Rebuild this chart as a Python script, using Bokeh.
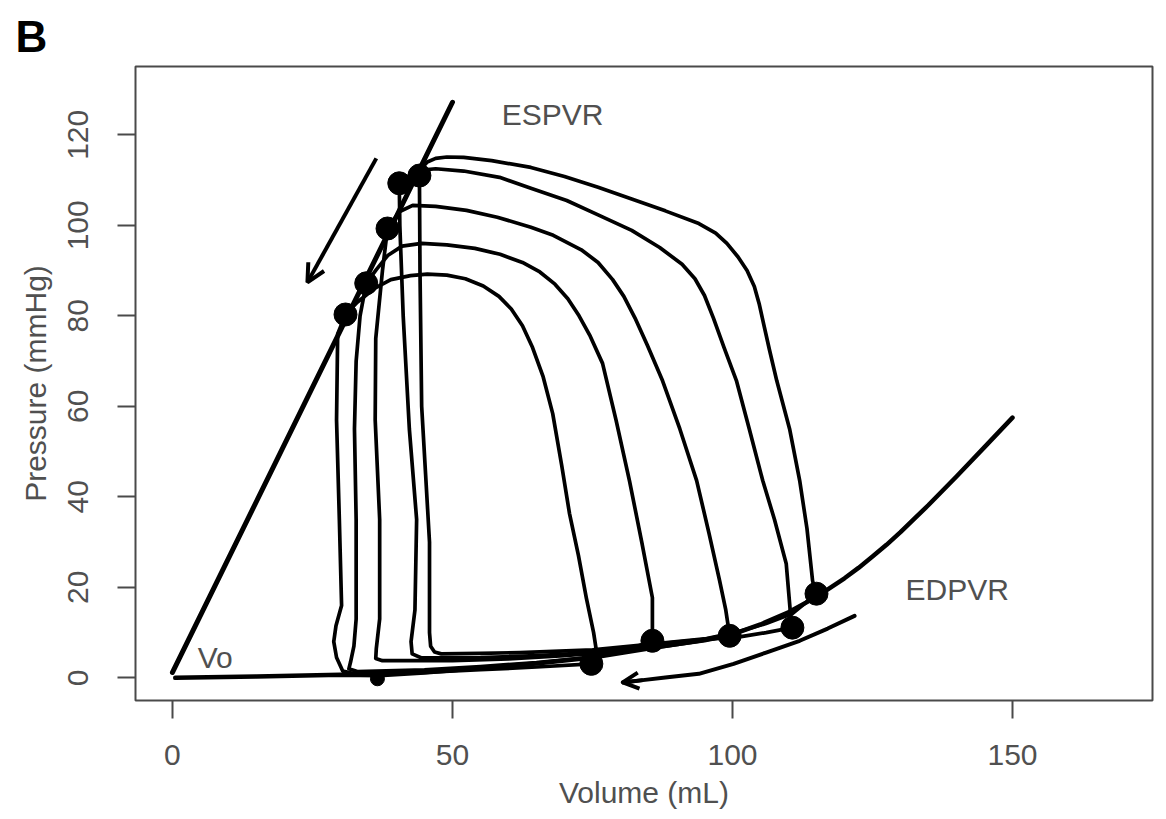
from bokeh.plotting import figure
from bokeh.models import Range1d, Label, Arrow, OpenHead, FixedTicker, Title
from bokeh.embed import file_html
from bokeh.resources import INLINE

# ---------------- data ----------------
x_ticks = [0, 50, 100, 150]
y_ticks = [0, 20, 40, 60, 80, 100, 120]

# end-systolic points (upper-left corners) and end-diastolic points
v_es = [44.1, 40.5, 38.4, 34.6, 30.9]
p_es = [111.0, 109.3, 99.3, 87.2, 80.3]
v_ed = [115.0, 110.7, 99.5, 85.7, 74.8]
p_ed = [18.6, 11.1, 9.3, 8.2, 3.1]
v_blob = [36.6]
p_blob = [-0.2]

# pressure-volume loops (largest -> smallest)
v_loop_a = [115, 114.6, 114.3, 113.3, 112, 110.2, 107.9, 106.6, 105.6, 104.8, 103.9, 102.6, 101, 99, 97, 94, 88, 82, 76,
            70, 64, 57, 52, 49, 47, 45.5, 44.6, 44.1, 44.2, 44.5, 45.2, 45.9, 45.9, 46.1, 46.8, 48, 55, 62, 75, 86, 95,
            101, 106, 110.7, 115]
p_loop_a = [18.6, 20, 21.5, 33, 43.6, 55, 65.7, 72.5, 78, 82.5, 86.5, 90, 93, 96, 98.3, 100.4, 103.2, 105.8, 108.4,
            110.8, 112.8, 114.3, 115, 115.1, 114.8, 114, 112.8, 111, 90, 60, 45, 30, 10, 7, 5.7, 5.3, 5.4, 5.6, 6.2, 7.5,
            8.6, 10.2, 12, 14.2, 18.6]

v_loop_b = [110.7, 110.3, 109.6, 107.5, 105.4, 103, 100.7, 98.5, 96.6, 95, 93.3, 91, 87, 82, 76, 70.4, 64, 58.4, 52, 47,
            44.5, 42.5, 40.5, 40.6, 41.2, 42.3, 43.6, 43.3, 42.6, 42.8, 44.5, 55, 65, 75, 86, 95, 101, 106, 110.7]
p_loop_b = [11.1, 15, 25.2, 35, 43.6, 55, 65.7, 73, 79.5, 84.5, 88.2, 91.4, 95.1, 98.9, 102.3, 105.5, 108.2, 110.6, 112,
            112.5, 112.2, 111.2, 109.3, 100, 80, 55, 35, 15, 8, 5.3, 4.4, 4.5, 4.9, 5.6, 7.4, 8.5, 9, 10, 11.1]

v_loop_c = [99.5, 98.8, 97.7, 95.8, 93.6, 90.6, 87.5, 84.8, 82.6, 80.6, 78.6, 76, 73, 68, 64, 58, 52.5, 47, 42.9, 40.5,
            38.4, 37.5, 36.3, 36.2, 37, 37, 36.4, 36.3, 37.5, 50, 60, 70, 80, 88, 95, 99.5]
p_loop_c = [9.3, 15, 21.5, 32, 43.6, 55, 65.7, 73.5, 79.5, 84.3, 88, 91.8, 94.6, 97.8, 99.6, 101.8, 103.3, 104.2, 104.4,
            103, 99.3, 90, 75, 57, 35, 13, 6.5, 4.3, 3.8, 3.8, 4.2, 4.9, 5.9, 7, 8.2, 9.3]

v_loop_d = [85.7, 85.7, 85.7, 83.8, 81.6, 79.2, 76.8, 74.6, 72.6, 70.6, 68.3, 65.6, 62.5, 58.5, 54, 49, 44.5, 41,
            38.5, 36.4, 34.6, 33.5, 32.8, 32.5, 32.8, 32.8, 32.4, 31.8, 31.5, 33, 45, 55, 65, 75, 80, 85.7]
p_loop_d = [8.2, 12, 17.7, 30, 43.6, 57, 69.5, 75.5, 80, 83.8, 87, 89.7, 91.8, 93.6, 94.9, 95.7, 96, 95.4,
            93.4, 90.2, 87.2, 80, 70, 55, 35, 13, 7, 3.5, 2, 1.4, 1.8, 2.5, 3.4, 4.6, 5.6, 8.2]

v_loop_e = [74.8, 75.7, 75.2, 73.9, 72.5, 70.9, 69.5, 67.9, 66.2, 64.3, 62.5, 60.5, 58.3, 55.5, 52.3, 49, 45.5, 42.5,
            39, 36, 33, 30.9, 29.5, 29.3, 29.8, 30.2, 29.2, 28.8, 29.3, 30.4, 33, 45, 55, 65, 74.8]
p_loop_e = [3.1, 6, 10, 17.7, 27, 36.3, 47, 58.4, 66.5, 73, 77.8, 81.5, 84.3, 86.6, 88.2, 89, 89.2, 88.9,
            88, 86, 83, 80.3, 76, 57, 35, 16, 11.5, 8, 4.5, 1.5, 0.8, 1.2, 1.8, 2.4, 3.1]

# end-systolic and end-diastolic pressure-volume relations
v_espvr = [0, 50]
p_espvr = [1.2, 127.2]
v_edpvr = [0.5, 15, 30, 37, 45, 55, 65, 75, 85, 94, 100, 105, 110, 115, 120, 122.5, 125, 127.5, 130, 135, 140, 145, 150]
p_edpvr = [0, 0.3, 0.7, 0.6, 1.2, 2.2, 3.2, 4.5, 6.5, 8.2, 9.6, 11.8, 14.5, 17.9, 22, 24.3, 26.8, 29.4, 32.2, 38.2,
           44.5, 51, 57.5]

# arrows
v_arrow_es = [36.4, 24.1]
p_arrow_es = [114.8, 87.4]
v_arrow_ed = [121.8, 117, 112, 106, 100.2, 94, 88, 84, 80.4]
p_arrow_ed = [13.7, 10.9, 8.2, 5.6, 3.1, 0.9, 0.1, -0.5, -1.0]

# ---------------- figure ----------------
FONT = "Liberation Sans"
TXT = "#505050"
FS = "30px"

p = figure(width=1158, height=811,
           x_range=Range1d(-6.6, 175.0), y_range=Range1d(-5.0, 135.1),
           output_backend="svg", toolbar_location=None,
           min_border_left=135, min_border_right=6, min_border_top=66, min_border_bottom=111)
p.grid.visible = False
p.background_fill_color = "white"
p.border_fill_color = "white"
p.outline_line_color = "#4a4a4a"
p.outline_line_width = 2

p.title = Title(text="B", text_font=FONT, text_font_size="44px", text_font_style="bold",
                text_color="black", align="left", offset=-120, standoff=12)

p.xaxis.ticker = FixedTicker(ticks=x_ticks)
p.yaxis.ticker = FixedTicker(ticks=y_ticks)
p.axis.axis_line_color = None
p.axis.minor_tick_line_color = None
p.axis.major_tick_in = 0
p.axis.major_tick_out = 18
p.axis.major_tick_line_color = "#4a4a4a"
p.axis.major_tick_line_width = 2
p.axis.major_label_text_font = FONT
p.axis.major_label_text_font_size = FS
p.axis.major_label_text_color = TXT
p.axis.axis_label_text_font = FONT
p.axis.axis_label_text_font_size = FS
p.axis.axis_label_text_color = TXT
p.axis.axis_label_text_font_style = "normal"
p.xaxis.axis_label = "Volume (mL)"
p.yaxis.axis_label = "Pressure (mmHg)"
p.yaxis.major_label_orientation = "vertical"
p.xaxis.major_label_standoff = 26
p.yaxis.major_label_standoff = 29
p.xaxis.axis_label_standoff = 8
p.yaxis.axis_label_standoff = 14

LW = 3.7
for vv, pp in [(v_loop_a, p_loop_a), (v_loop_b, p_loop_b), (v_loop_c, p_loop_c),
               (v_loop_d, p_loop_d), (v_loop_e, p_loop_e)]:
    p.line(vv, pp, line_color="black", line_width=LW, line_join="round", line_cap="round")

p.line(v_espvr, p_espvr, line_color="black", line_width=5, line_cap="round")
p.line(v_edpvr, p_edpvr, line_color="black", line_width=4.5, line_join="round", line_cap="round")

p.scatter(v_es, p_es, size=23, color="black")
p.scatter(v_ed, p_ed, size=23, color="black")
p.scatter(v_blob, p_blob, size=14, color="black")

# arrows
p.add_layout(Arrow(end=OpenHead(size=18, line_width=4, line_color="black"),
                   x_start=v_arrow_es[0], y_start=p_arrow_es[0],
                   x_end=v_arrow_es[1], y_end=p_arrow_es[1],
                   line_width=4, line_color="black"))
p.line(v_arrow_ed, p_arrow_ed, line_color="black", line_width=4, line_join="round", line_cap="round")
p.add_layout(Arrow(end=OpenHead(size=16, line_width=4, line_color="black"),
                   x_start=v_arrow_ed[-2], y_start=p_arrow_ed[-2],
                   x_end=v_arrow_ed[-1], y_end=p_arrow_ed[-1],
                   line_width=4, line_color="black"))

# labels
for txt, x, y in [("ESPVR", 58.8, 124.6), ("EDPVR", 130.9, 19.5), ("Vo", 4.5, 4.5)]:
    p.add_layout(Label(x=x, y=y, text=txt, text_font=FONT, text_font_size=FS,
                       text_color=TXT, text_align="left", text_baseline="alphabetic"))

open("out.html", "w").write(file_html(p, INLINE))
